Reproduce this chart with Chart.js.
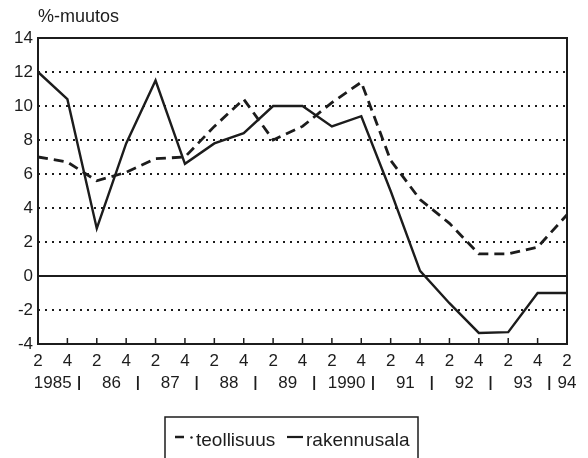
<!DOCTYPE html>
<html><head><meta charset="utf-8">
<script src="https://cdn.jsdelivr.net/npm/chart.js@4/dist/chart.umd.min.js"></script>
<style>html,body{margin:0;padding:0;background:#fff}</style>
</head><body>
<canvas id="c" width="588" height="458"></canvas>
<script>
const quarterLabels = ['2','4','2','4','2','4','2','4','2','4','2','4','2','4','2','4','2','4','2'];
const yearLabels = ['1985','86','87','88','89','1990','91','92','93','94'];
const teollisuus = [7.0, 6.7, 5.6, 6.1, 6.9, 7.0, 8.8, 10.4, 8.0, 8.8, 10.2, 11.4, 6.8, 4.5, 3.1, 1.3, 1.3, 1.7, 3.6];
const rakennusala = [12.0, 10.4, 2.8, 7.8, 11.5, 6.6, 7.8, 8.4, 10.0, 10.0, 8.8, 9.4, 5.0, 0.3, -1.6, -3.35, -3.3, -1.0, -1.0];
const yMin = -4, yMax = 14, yStep = 2;
const yTitle = '%-muutos';

const INK = '#1c1c1c';
const FONT = '"Liberation Sans", Arial, Helvetica, sans-serif';

const decor = {
  id: 'decor',
  afterDraw(chart) {
    const {ctx, chartArea: a, scales: {x}} = chart;
    ctx.save();
    ctx.strokeStyle = INK;
    ctx.fillStyle = INK;
    // frame
    ctx.lineWidth = 2;
    ctx.strokeRect(a.left, a.top, a.right - a.left, a.bottom - a.top);
    // inner ticks
    ctx.lineWidth = 1.5;
    for (let i = 0; i < quarterLabels.length; i++) {
      const px = x.getPixelForValue(i);
      ctx.beginPath();
      ctx.moveTo(px, a.bottom);
      ctx.lineTo(px, a.bottom - 6);
      ctx.stroke();
    }
    // year row
    ctx.font = '17px ' + FONT;
    ctx.textBaseline = 'middle';
    ctx.textAlign = 'center';
    const yr = 383;
    const n = quarterLabels.length;
    yearLabels.forEach((lab, k) => {
      const i0 = 2 * k, i1 = 2 * k + 1;
      let cx;
      if (i1 < n) cx = (x.getPixelForValue(i0) + x.getPixelForValue(i1)) / 2;
      else cx = x.getPixelForValue(i0);
      ctx.fillText(lab, cx, yr);
      if (k > 0) {
        const s = (x.getPixelForValue(i0 - 1) + x.getPixelForValue(i0)) / 2 - 3;
        ctx.fillRect(s - 0.9, yr - 7, 1.8, 14);
      }
    });
    // y title
    ctx.textAlign = 'left';
    ctx.font = '18px ' + FONT;
    ctx.fillText(yTitle, a.left, 17);
    // legend box
    const lb = {l: 165, r: 418, t: 417};
    ctx.lineWidth = 1.5;
    ctx.beginPath();
    ctx.moveTo(lb.l, 470); ctx.lineTo(lb.l, lb.t); ctx.lineTo(lb.r, lb.t); ctx.lineTo(lb.r, 470);
    ctx.stroke();
    const ds = chart.data.datasets;
    const ly = 441, sy = 437;
    ctx.font = '19px ' + FONT;
    // teollisuus symbol: dash + dot
    ctx.lineWidth = 2.5;
    ctx.beginPath(); ctx.moveTo(175, sy); ctx.lineTo(184, sy); ctx.stroke();
    ctx.beginPath(); ctx.arc(191.5, sy + 0.5, 1.2, 0, Math.PI * 2); ctx.fill();
    ctx.fillText(ds[0].label, 196, ly);
    // rakennusala symbol
    ctx.lineWidth = 2.2;
    ctx.beginPath(); ctx.moveTo(287, sy); ctx.lineTo(303, sy); ctx.stroke();
    ctx.fillText(ds[1].label, 306, ly);
    ctx.restore();
  }
};

new Chart(document.getElementById('c'), {
  type: 'line',
  data: {
    labels: quarterLabels,
    datasets: [
      {label: 'teollisuus', data: teollisuus, borderColor: INK, borderWidth: 2.8, borderDash: [10, 6], pointRadius: 0, tension: 0, fill: false},
      {label: 'rakennusala', data: rakennusala, borderColor: INK, borderWidth: 2.4, pointRadius: 0, tension: 0, fill: false}
    ]
  },
  options: {
    responsive: false,
    animation: false,
    devicePixelRatio: 1,
    layout: {padding: {top: 38, right: 21, left: 0, bottom: 0}},
    plugins: {legend: {display: false}, tooltip: {enabled: false}, title: {display: false}},
    scales: {
      x: {
        type: 'category',
        offset: false,
        grid: {display: false, drawTicks: false},
        border: {display: false},
        ticks: {color: INK, font: {size: 17, family: FONT}, padding: 7, maxRotation: 0, autoSkip: false},
        afterFit(s) { s.height = 114; }
      },
      y: {
        min: yMin, max: yMax,
        ticks: {stepSize: yStep, color: INK, font: {size: 17, family: FONT}, padding: 5},
        grid: {
          drawTicks: false,
          color: c => (c.tick && (c.tick.value === yMin || c.tick.value === yMax)) ? 'rgba(0,0,0,0)' : INK,
          lineWidth: c => (c.tick && c.tick.value === 0) ? 2 : 2
        },
        border: {display: false, dash: c => (c.tick && c.tick.value === 0) ? [] : [2, 5]},
        afterFit(s) { s.width = 38; }
      }
    }
  },
  plugins: [decor]
});
</script>
</body></html>
